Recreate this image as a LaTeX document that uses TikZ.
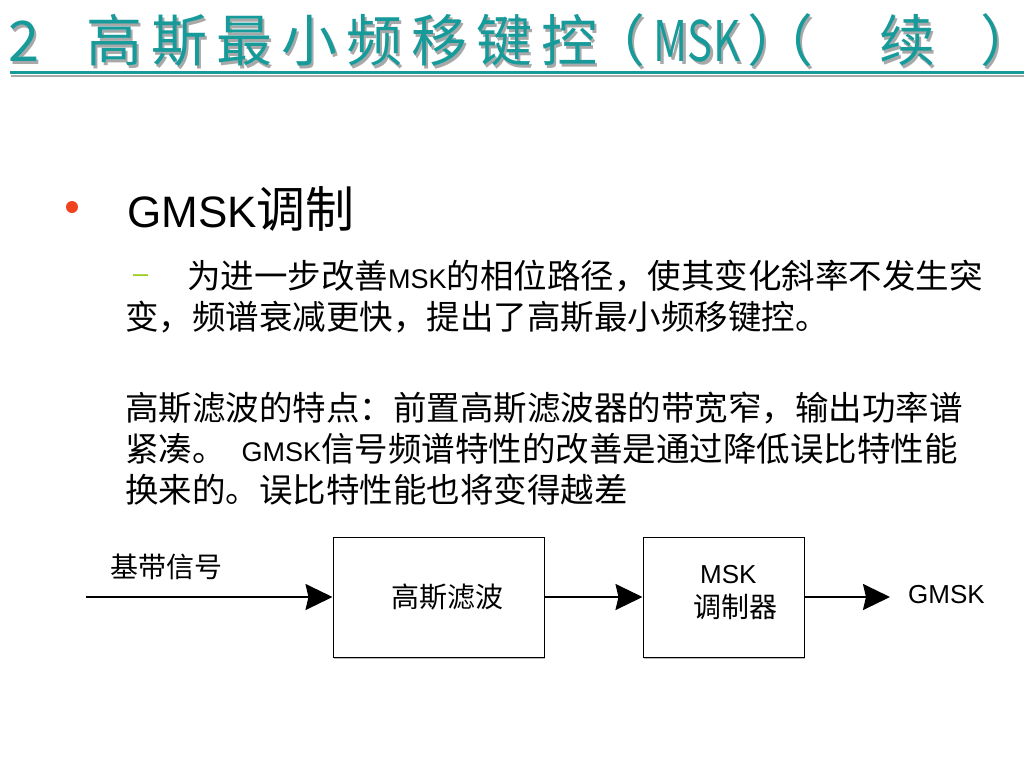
\documentclass[tikz,border=0pt]{standalone}
\usepackage{fontspec}
\setmainfont{Noto Sans CJK SC}
\newfontfamily\latf{Liberation Sans}
\usetikzlibrary{arrows.meta}
\definecolor{titleteal}{HTML}{179A9A}
\definecolor{titleshadow}{HTML}{A8A8A8}
\definecolor{bulletred}{HTML}{F0421C}
\definecolor{dashlime}{HTML}{9ACD1E}
\newcommand\Lt[1]{{\latf\fontsize{27}{30}\selectfont #1}}
\newcommand\pl[1]{\makebox[26pt][r]{#1}}
\newcommand\pr[1]{\makebox[26pt][l]{#1}}
\newcommand\titlelayer[4]{%
 \begin{scope}[shift={(#3,#4)}, every node/.style={text=#2, font=\fontsize{56}{60}\selectfont, anchor=base, inner sep=0pt}]
  \node (#1a) at (24,62) {2};
  \node (#1b) at (114,62) {高};
  \node (#1c) at (179,62) {斯};
  \node (#1d) at (244,62) {最};
  \node (#1e) at (309,62) {小};
  \node (#1f) at (374,62) {频};
  \node (#1g) at (439,62) {移};
  \node (#1h) at (504,62) {键};
  \node (#1i) at (569,62) {控};
  \node (#1j) at (632,62) {\pl{（}};
  \node (#1k) at (697,62) {\scalebox{0.75}[1]{MSK}};
  \node (#1l) at (760,62) {\pr{）}};
  \node (#1m) at (800,62) {\pl{（}};
  \node (#1n) at (907,62) {续};
  \node (#1o) at (993,62) {\pr{）}};
 \end{scope}}
\tikzset{
  body/.style={anchor=base west, inner sep=0pt, font=\fontsize{33.5}{41}\selectfont},
  blockbox/.style={draw=black, line width=1pt, fill=white},
  arr/.style={line width=2pt, -{Stealth[length=27pt,width=26pt,inset=3pt]}},
  lbl/.style={anchor=base west, inner sep=0pt, font=\fontsize{28}{30}\selectfont},
  latlbl/.style={anchor=base west, inner sep=0pt, font=\latf\fontsize{26}{30}\selectfont}
}
\begin{document}
\begin{tikzpicture}[x=1pt,y=-1pt]
\useasboundingbox (0,0) rectangle (1024,768);
\fill[white] (0,0) rectangle (1024,768);
% title
\titlelayer{s}{titleshadow}{2.5}{2.5}
\titlelayer{t}{titleteal}{0}{0}
\draw[titleshadow, line width=2pt] (11,76) -- (1024,76);
\draw[titleteal, line width=3pt] (10,72.5) -- (1024,72.5);
% bullet
\node[circle, fill=bulletred, inner sep=0pt, minimum size=12pt] (dot) at (72,207) {};
\node[anchor=base west, inner sep=0pt] (h1) at (127,227) {{\latf\fontsize{44}{46}\selectfont GMSK}{\fontsize{49}{50}\selectfont 调制}};
\node[anchor=base west, inner sep=0pt, text=dashlime] (dash) at (133,282) {\latf\fontsize{27}{30}\selectfont –};
\node[body] (l2) at (187,288) {为进一步改善\Lt{MSK}的相位路径，使其变化斜率不发生突};
\node[body] (l3) at (125,329) {变，频谱衰减更快，提出了高斯最小频移键控。};
\node[body] (p1) at (125,420) {高斯滤波的特点：前置高斯滤波器的带宽窄，输出功率谱};
\node[body] (p2) at (125,461) {紧凑。\hspace{16pt}\Lt{GMSK}信号频谱特性的改善是通过降低误比特性能};
\node[body] (p3) at (125,502) {换来的。误比特性能也将变得越差};
% block diagram
\draw[titleshadow!80, line width=1.5pt] (334,658) -- (545,658);
\draw[titleshadow!80, line width=1.5pt] (644,658) -- (805,658);
\node[blockbox, minimum width=211pt, minimum height=120pt] (b1) at (438.5,597) {};
\node[blockbox, minimum width=161pt, minimum height=120pt] (b2) at (723.5,597) {};
\coordinate (in) at (86,597);
\coordinate (out) at (890,597);
\draw[arr] (in) -- (b1.west);
\draw[arr] (b1.east) -- (b2.west);
\draw[arr] (b2.east) -- (out);
\node[lbl] (sig) at (110,577) {基带信号};
\node[lbl] (gf) at (391,607) {高斯滤波};
\node[latlbl] (msk) at (700,583) {MSK};
\node[lbl] (mod) at (693,617) {调制器};
\node[latlbl] (gmsk) at (908,603) {GMSK};
\end{tikzpicture}
\end{document}
